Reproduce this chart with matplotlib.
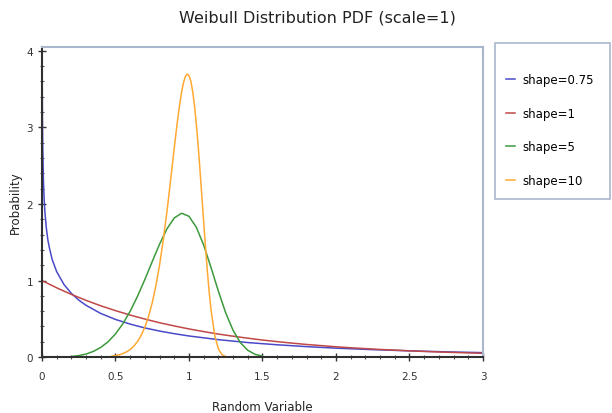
import matplotlib
matplotlib.use("Agg")
import matplotlib.pyplot as plt
from matplotlib.ticker import MultipleLocator
from matplotlib.patches import Rectangle

# values
x_k075 = [0.0001, 0.0005, 0.001, 0.002, 0.003, 0.005, 0.01, 0.015, 0.02, 0.03, 0.04, 0.05, 0.07,
          0.1, 0.15, 0.2, 0.25, 0.3, 0.4, 0.5, 0.6, 0.7, 0.8, 0.9, 1.0, 1.2, 1.4, 1.6, 1.8, 2.0,
          2.25, 2.5, 2.75, 3.0]
y_k075 = [7.49, 5.0, 4.19, 3.51, 3.16, 2.77, 2.30, 2.05, 1.89, 1.68, 1.53, 1.43, 1.27,
          1.116, 0.947, 0.832, 0.745, 0.676, 0.570, 0.492, 0.431, 0.381, 0.340, 0.306, 0.276,
          0.228, 0.190, 0.161, 0.137, 0.117, 0.0975, 0.0817, 0.0688, 0.0583]

x_k1 = [0.0, 0.1, 0.2, 0.3, 0.4, 0.5, 0.6, 0.7, 0.8, 0.9, 1.0, 1.1, 1.2, 1.3, 1.4, 1.5,
        1.6, 1.7, 1.8, 1.9, 2.0, 2.1, 2.2, 2.3, 2.4, 2.5, 2.6, 2.7, 2.8, 2.9, 3.0]
y_k1 = [1.0, 0.905, 0.819, 0.741, 0.670, 0.607, 0.549, 0.497, 0.449, 0.407, 0.368, 0.333, 0.301,
        0.273, 0.247, 0.223, 0.202, 0.183, 0.165, 0.150, 0.135, 0.122, 0.111, 0.100, 0.091, 0.082,
        0.074, 0.067, 0.061, 0.055, 0.050]

x_k5 = [0.2, 0.25, 0.3, 0.35, 0.4, 0.45, 0.5, 0.55, 0.6, 0.65, 0.7, 0.75, 0.8, 0.85, 0.9, 0.95,
        1.0, 1.05, 1.1, 1.15, 1.2, 1.25, 1.3, 1.35, 1.4, 1.45, 1.5]
y_k5 = [0.008, 0.0195, 0.040, 0.075, 0.127, 0.201, 0.303, 0.435, 0.600, 0.795, 1.015, 1.248, 1.476,
        1.675, 1.818, 1.879, 1.839, 1.696, 1.463, 1.170, 0.861, 0.577, 0.349, 0.188, 0.089, 0.036, 0.013]

x_k10 = [0.475, 0.5, 0.525, 0.55, 0.575, 0.6, 0.625, 0.65, 0.675, 0.7, 0.725, 0.75, 0.775, 0.8,
         0.825, 0.85, 0.8625, 0.875, 0.8875, 0.9, 0.9125, 0.925, 0.9375, 0.95, 0.9625, 0.975,
         0.9875, 1.0, 1.0125, 1.025, 1.0375, 1.05, 1.0625, 1.075, 1.0875, 1.1, 1.1125, 1.125,
         1.1375, 1.15, 1.175, 1.2, 1.225, 1.25]
y_k10 = [0.012, 0.020, 0.030, 0.046, 0.068, 0.100, 0.144, 0.204, 0.285, 0.392, 0.532, 0.710, 0.933,
         1.205, 1.530, 1.902, 2.103, 2.312, 2.523, 2.734, 2.940, 3.134, 3.311, 3.463, 3.583, 3.663,
         3.697, 3.679, 3.604, 3.472, 3.284, 3.042, 2.759, 2.441, 2.104, 1.763, 1.431, 1.122,
         0.848, 0.616, 0.283, 0.106, 0.031, 0.007]

series = [
    ("shape=0.75", x_k075, y_k075, "#4a4ac8"),
    ("shape=1", x_k1, y_k1, "#c04848"),
    ("shape=5", x_k5, y_k5, "#3c9a3c"),
    ("shape=10", x_k10, y_k10, "#ffa832"),
]

fig = plt.figure(figsize=(6.12, 4.14), dpi=100)
ax = fig.add_axes([0.0686, 0.135, 0.7206, 0.749])

for name, xs, ys, col in series:
    ax.plot(xs, ys, color=col, lw=1.1, label=name)

ax.set_xlim(0, 3)
ax.set_ylim(0, 4.05)
ax.xaxis.set_major_locator(MultipleLocator(0.5))
ax.xaxis.set_minor_locator(MultipleLocator(0.1))
ax.yaxis.set_major_locator(MultipleLocator(1))
ax.yaxis.set_minor_locator(MultipleLocator(0.2))
ax.xaxis.set_major_formatter(plt.FuncFormatter(lambda v, p: "%g" % v))
ax.tick_params(which="major", direction="inout", length=6, width=1, labelsize=7.5, colors="#333333")
ax.tick_params(axis="x", which="major", pad=7)
ax.tick_params(which="minor", direction="inout", length=3, width=0.8, colors="#555555")

for s in ["left", "bottom"]:
    ax.spines[s].set_color("#303030")
    ax.spines[s].set_linewidth(1.5)
for s in ["top", "right"]:
    ax.spines[s].set_color("#a9b7cc")
    ax.spines[s].set_linewidth(1.5)

ax.set_xlabel("Random Variable", fontsize=8.5, color="#222222", labelpad=14)
ax.set_ylabel("Probability", fontsize=8.5, color="#222222", labelpad=3)
fig.suptitle("Weibull Distribution PDF (scale=1)", fontsize=11.5, x=0.518, y=0.975, color="#222222")

# legend box
lax = fig.add_axes([0.809, 0.517, 0.188, 0.377])
lax.axis("off")
lax.add_patch(Rectangle((0, 0), 1, 1, transform=lax.transAxes, fill=False,
                        edgecolor="#a9b7cc", lw=1.2, clip_on=False))
h, l = ax.get_legend_handles_labels()
lax.legend(h, l, loc="upper left", frameon=False, fontsize=8.5, handlelength=0.8,
           handletextpad=0.6, labelspacing=1.75, borderaxespad=0.5, bbox_to_anchor=(0.0, 0.875))

fig.savefig("out.png", dpi=100)
